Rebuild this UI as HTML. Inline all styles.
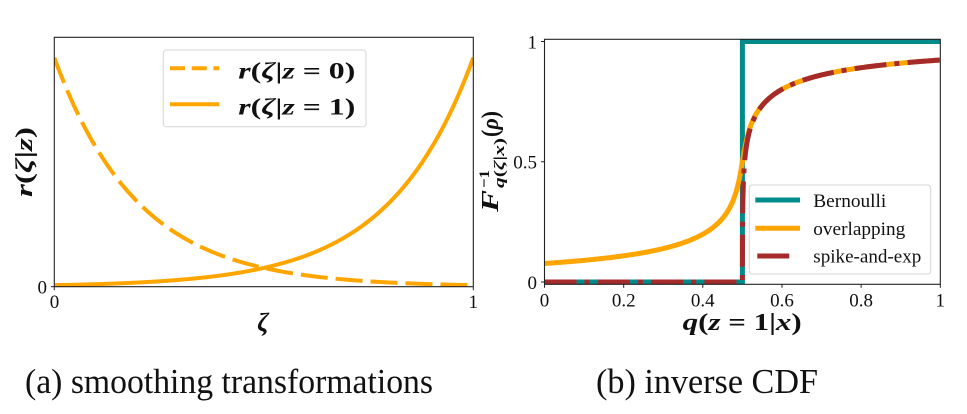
<!DOCTYPE html>
<html><head><meta charset="utf-8"><style>
html,body{margin:0;padding:0;background:#fff;}
svg{display:block;}
text{font-family:"Liberation Serif","DejaVu Serif",serif;fill:#111;}
</style></head><body>
<svg id="s" width="967" height="414" viewBox="0 0 967 414" xmlns="http://www.w3.org/2000/svg">
<defs>
<clipPath id="cl"><rect x="54.3" y="37.3" width="419" height="249.4"/></clipPath>
<clipPath id="cr"><rect x="544.5" y="39.3" width="395.8" height="245"/></clipPath>
</defs>
<rect width="967" height="414" fill="#fff"/>

<!-- LEFT PLOT -->
<g clip-path="url(#cl)">
<path id="l0" d="" fill="none" stroke="#FFA500" stroke-width="4" stroke-dasharray="27 8"/>
<path id="l1" d="" fill="none" stroke="#FFA500" stroke-width="4"/>
</g>
<rect x="54.3" y="37.3" width="419" height="249.4" fill="none" stroke="#222" stroke-width="1.1"/>
<line x1="50.8" y1="286.7" x2="54.3" y2="286.7" stroke="#222" stroke-width="1"/>
<line x1="54.3" y1="286.7" x2="54.3" y2="290.2" stroke="#222" stroke-width="1"/>
<line x1="473.3" y1="286.7" x2="473.3" y2="290.2" stroke="#222" stroke-width="1"/>
<text x="47" y="293.3" font-size="19" text-anchor="end">0</text>
<text x="54.5" y="308" font-size="19" text-anchor="middle">0</text>
<text x="473.3" y="308" font-size="19" text-anchor="middle">1</text>
<text x="263" y="331" font-size="26" font-weight="bold" font-style="italic" text-anchor="middle">ζ</text>
<g transform="translate(32,197) rotate(-90)">
<text x="0" y="0" font-size="24" font-weight="bold" textLength="70" lengthAdjust="spacingAndGlyphs"><tspan font-style="italic">r</tspan>(<tspan font-style="italic">ζ</tspan>|<tspan font-style="italic">z</tspan>)</text>
</g>
<!-- left legend -->
<rect x="163.3" y="50" width="202.7" height="76.7" rx="3" fill="#fff" fill-opacity="0.85" stroke="#d6d6d6" stroke-width="1"/>
<line x1="170" y1="68.3" x2="219.3" y2="68.3" stroke="#FFA500" stroke-width="4" stroke-dasharray="15 6.7"/>
<line x1="170" y1="104.3" x2="219.3" y2="104.3" stroke="#FFA500" stroke-width="4"/>
<text x="238.3" y="78.3" font-size="23" font-weight="bold" textLength="117" lengthAdjust="spacingAndGlyphs"><tspan font-style="italic">r</tspan>(<tspan font-style="italic">ζ</tspan>|<tspan font-style="italic">z</tspan> = 0)</text>
<text x="238.3" y="114.3" font-size="23" font-weight="bold" textLength="117" lengthAdjust="spacingAndGlyphs"><tspan font-style="italic">r</tspan>(<tspan font-style="italic">ζ</tspan>|<tspan font-style="italic">z</tspan> = 1)</text>

<!-- RIGHT PLOT -->
<g clip-path="url(#cr)">
<polyline points="544.5,282 742.4,282 742.4,41.5 940.3,41.5" fill="none" stroke="#008B8B" stroke-width="5"/>
<path id="ov" d="" fill="none" stroke="#FFA500" stroke-width="5"/>
<path id="sp" d="" fill="none" stroke="#A52A2A" stroke-width="5" stroke-dasharray="32 8 5 8.3"/>
</g>
<rect x="544.5" y="39.3" width="395.8" height="245" fill="none" stroke="#222" stroke-width="1.1"/>
<g stroke="#222" stroke-width="1">
<line x1="541" y1="282" x2="544.5" y2="282"/>
<line x1="541" y1="161.75" x2="544.5" y2="161.75"/>
<line x1="541" y1="41.5" x2="544.5" y2="41.5"/>
<line x1="544.5" y1="284.3" x2="544.5" y2="287.8"/>
<line x1="623.7" y1="284.3" x2="623.7" y2="287.8"/>
<line x1="702.8" y1="284.3" x2="702.8" y2="287.8"/>
<line x1="782" y1="284.3" x2="782" y2="287.8"/>
<line x1="861.1" y1="284.3" x2="861.1" y2="287.8"/>
<line x1="940.3" y1="284.3" x2="940.3" y2="287.8"/>
</g>
<g font-size="19" text-anchor="end">
<text x="537" y="288.8">0</text>
<text x="537" y="168.5">0.5</text>
<text x="537" y="48.5">1</text>
</g>
<g font-size="19" text-anchor="middle">
<text x="544.5" y="306.7">0</text>
<text x="623.7" y="306.7">0.2</text>
<text x="702.8" y="306.7">0.4</text>
<text x="782" y="306.7">0.6</text>
<text x="861.1" y="306.7">0.8</text>
<text x="940.3" y="306.7">1</text>
</g>
<text x="682.7" y="330" font-size="24" font-weight="bold" textLength="119" lengthAdjust="spacingAndGlyphs"><tspan font-style="italic">q</tspan>(<tspan font-style="italic">z</tspan> = 1|<tspan font-style="italic">x</tspan>)</text>
<g transform="translate(498,212) rotate(-90)" font-weight="bold">
<text x="0" y="0" font-size="24" font-style="italic" textLength="22" lengthAdjust="spacingAndGlyphs">F</text>
<text x="24" y="-9" font-size="15" textLength="18" lengthAdjust="spacingAndGlyphs">−1</text>
<text x="24" y="6" font-size="15" textLength="50" lengthAdjust="spacingAndGlyphs"><tspan font-style="italic">q</tspan>(<tspan font-style="italic">ζ</tspan>|<tspan font-style="italic">x</tspan>)</text>
<text x="75" y="0" font-size="24" textLength="26" lengthAdjust="spacingAndGlyphs">(<tspan font-style="italic">ρ</tspan>)</text>
</g>
<!-- right legend -->
<rect x="749.3" y="185" width="181.4" height="89" rx="3" fill="#fff" fill-opacity="0.85" stroke="#d6d6d6" stroke-width="1"/>
<line x1="755.3" y1="200" x2="800" y2="200" stroke="#008B8B" stroke-width="5"/>
<line x1="755.3" y1="228.3" x2="800" y2="228.3" stroke="#FFA500" stroke-width="5"/>
<line x1="757.3" y1="256" x2="789.3" y2="256" stroke="#A52A2A" stroke-width="5"/>
<text x="813.3" y="207" font-size="19" textLength="73" lengthAdjust="spacingAndGlyphs">Bernoulli</text>
<text x="813.3" y="235" font-size="19" textLength="92" lengthAdjust="spacingAndGlyphs">overlapping</text>
<text x="813.3" y="262.7" font-size="19" textLength="108" lengthAdjust="spacingAndGlyphs">spike-and-exp</text>

<!-- captions -->
<text x="25" y="393" font-size="35" textLength="408" lengthAdjust="spacingAndGlyphs">(a) smoothing transformations</text>
<text x="596" y="393" font-size="35" textLength="222" lengthAdjust="spacingAndGlyphs">(b) inverse CDF</text>
</svg>
<script>
(function(){
  var b5=5, n5=1-Math.exp(-b5);
  var LX=function(z){return 54.3+419*z;}, LY=function(r){return 286.7-45.49*r;};
  var d0=[], d1=[];
  for(var i=0;i<=300;i++){
    var z=i/300;
    var r0=b5*Math.exp(-b5*z)/n5, r1=b5*Math.exp(b5*(z-1))/n5;
    d0.push((i?'L':'M')+LX(z).toFixed(2)+','+LY(r0).toFixed(2));
    d1.push((i?'L':'M')+LX(z).toFixed(2)+','+LY(r1).toFixed(2));
  }
  document.getElementById('l0').setAttribute('d',d0.join(''));
  document.getElementById('l1').setAttribute('d',d1.join(''));
  var B=9,R=0.5,Z=1-Math.exp(-B),eB=Math.exp(-B);
  function ov(q){
    var a=q*eB,b=(1-q)-q*eB-R*Z,c=-(1-q),u;
    if(a<1e-15){u=-c/b;}else{var d=Math.sqrt(b*b-4*a*c);u=b>0?(-2*c)/(b+d):(-b+d)/(2*a);}
    return Math.log(u)/B;
  }
  function sp(q){
    if(q<=0.5) return 0;
    return Math.log(((R+q-1)/q)*(Math.exp(B)-1)+1)/B;
  }
  var RX=function(q){return 544.5+395.8*q;}, RY=function(v){return 282-240.5*v;};
  var qs=[];
  for(var i=0;i<=400;i++) qs.push(i/400);
  for(var i=1;i<400;i++) qs.push(0.45+0.1*i/400);
  for(var i=1;i<200;i++) qs.push(0.5+0.005*i/200);
  qs.sort(function(a,b){return a-b;});
  var po=[],ps=[];
  for(var i=0;i<qs.length;i++){
    var q=qs[i];
    po.push((i?'L':'M')+RX(q).toFixed(2)+','+RY(ov(q)).toFixed(2));
    ps.push((i?'L':'M')+RX(q).toFixed(2)+','+RY(sp(q)).toFixed(2));
  }
  document.getElementById('ov').setAttribute('d',po.join(''));
  document.getElementById('sp').setAttribute('d',ps.join(''));
})();
</script>
</body></html>
